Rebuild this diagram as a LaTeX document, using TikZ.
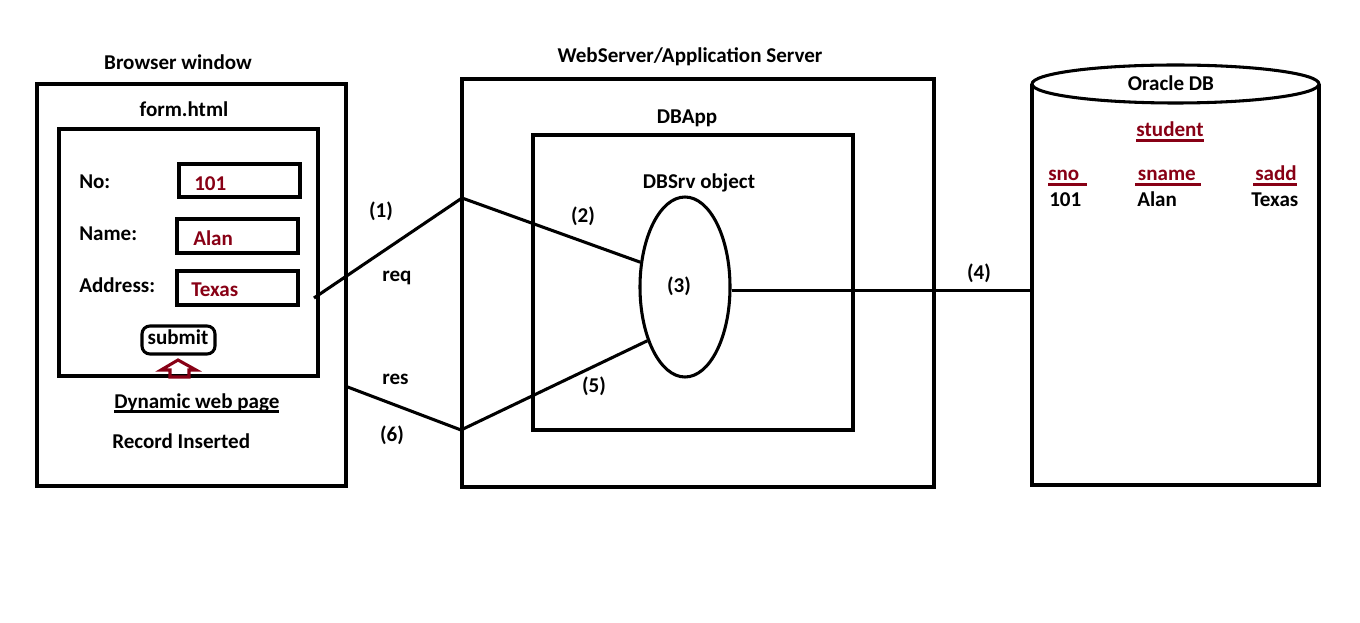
\documentclass[tikz,border=0pt]{standalone}
\usepackage{fontspec}
\setmainfont{Carlito}
\usetikzlibrary{shapes.geometric,fit}
\definecolor{dred}{HTML}{880015}
\newcommand\myul[2][1.8pt]{\setbox0\hbox{#2}\rlap{\rule[-3.4pt]{\wd0}{#1}}\box0}
\tikzset{
  lbl/.style={font=\bfseries\fontsize{15.8}{18}\selectfont, inner sep=0pt, anchor=base},
  lblw/.style={lbl, anchor=base west},
  redlbl/.style={lbl, text=dred},
  redlblw/.style={lblw, text=dred},
  box/.style={draw, line width=2.3pt, inner sep=0pt},
  conn/.style={line width=2.3pt}
}
\begin{document}
\begin{tikzpicture}[x=0.75pt,y=-0.75pt]
\useasboundingbox (0,0) rectangle (1360,623);
\fill[white] (0,0) rectangle (1360,623);

% Browser window
\node[lbl] (bwt) at (178,70) {Browser window};
\node[box, fit={(37,84)(346,486)}] (browser) {};
\node[lbl] (fht) at (184,117) {form.html};
\node[box, fit={(59,129)(318,376)}] (form) {};
\node[lblw] (lno) at (79,189) {No:};
\node[lblw] (lname) at (79,241) {Name:};
\node[lblw] (laddr) at (79,293) {Address:};
\node[box, fit={(179,164)(300,197)}] (fno) {};
\node[box, fit={(177,219)(298,253)}] (fname) {};
\node[box, fit={(177,271)(298,305)}] (faddr) {};
\node[redlblw] (vno) at (194,191) {101};
\node[redlblw] (vname) at (193,246) {Alan};
\node[redlblw] (vaddr) at (191,297) {Texas};
\node[box, rounded corners=6pt, fit={(142,326)(215,354)}] (submit) {};
\node[lbl] (subt) at (178,345) {submit};
\draw[dred, line width=2.3pt, line join=miter]
  (178,360) -- (196,370) -- (189,370) -- (189,377) -- (170,377) -- (170,370) -- (161,370) -- cycle;
\node[lblw] (dyn) at (114,408) {\myul[1.6pt]{Dynamic web page}};
\node[lblw] (rec) at (112,449) {Record Inserted};

% Server
\node[lbl] (wst) at (690,63) {WebServer/Application Server};
\node[box, fit={(462,79)(934,487)}] (server) {};
\node[lbl] (dbat) at (687,124) {DBApp};
\node[box, fit={(533,135)(853,430)}] (dbapp) {};
\node[lbl] (objt) at (699,189) {DBSrv object};
\node[draw, line width=2.3pt, ellipse, minimum width=67.5pt, minimum height=135pt, inner sep=0pt] (obj) at (685,287) {};
\node[lbl] (n3) at (679,293) {(3)};

% Database
\node[fit={(1032,84)(1319,485)}, inner sep=0pt] (db) {};
\draw[line width=2.3pt] (1032,84) -- (1032,485) -- (1319,485) -- (1319,84);
\draw[line width=2.3pt, fill=white] (1175.5,84) ellipse [x radius=143.5, y radius=19];
\node[lbl] (dbt) at (1171,91) {Oracle DB};
\node[redlbl] (stu) at (1170,137) {\myul{student}};
\node[redlblw] (csno) at (1048,181) {\myul{sno\hspace{6pt}}};
\node[redlblw] (csname) at (1135,181) {\myul{\hspace{2pt}sname\hspace{4pt}}};
\node[redlblw] (csadd) at (1253,181) {\myul{\hspace{1.5pt}sadd\hspace{0.5pt}}};
\node[lblw] (dno) at (1049,207) {101};
\node[lblw] (dname) at (1137,207) {Alan};
\node[lblw] (daddr) at (1251,207) {Texas};

% Connectors
\coordinate (reqA) at (314,298);
\coordinate (reqB) at (462,198);
\coordinate (resA) at (345,386);
\coordinate (resB) at (461,430);
\draw[conn] (reqA) -- (reqB) -- (obj.151);
\draw[conn] (resA) -- (resB) -- (obj.235);
\draw[conn] (obj.-4) -- (obj.-4 -| db.west);

% Connector labels
\node[lbl] (n1) at (381,218) {(1)};
\node[lblw] (lreq) at (382,282) {req};
\node[lbl] (n2) at (583,223) {(2)};
\node[lblw] (lres) at (382,385) {res};
\node[lbl] (n5) at (594,393) {(5)};
\node[lbl] (n6) at (392,441) {(6)};
\node[lbl] (n4) at (979,280) {(4)};
\end{tikzpicture}
\end{document}
